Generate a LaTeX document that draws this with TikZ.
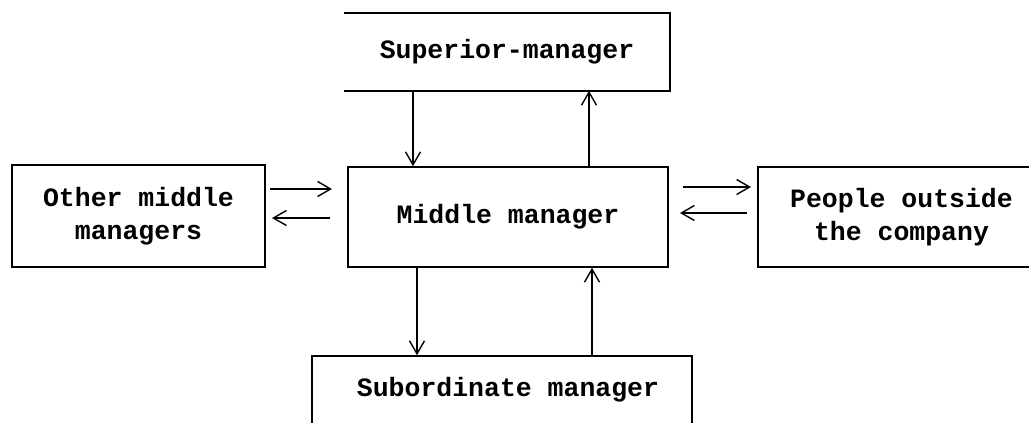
\documentclass[tikz,border=0pt]{standalone}
\usepackage{fontspec}
\setmonofont{Liberation Mono}
\usetikzlibrary{arrows.meta}
\begin{document}
\begin{tikzpicture}[x=1pt,y=-1pt,
  box/.style={rectangle,inner sep=0pt,line width=1.6pt,
    font=\ttfamily\bfseries\fontsize{26.5}{33}\selectfont,align=center},
  arr/.style={line width=1.4pt,-{Straight Barb[length=13pt,width=15pt,line width=1.4pt]}}]
\useasboundingbox (0,0) rectangle (1029,423);

% boxes
\node[box,draw=none,minimum width=324pt,minimum height=76pt] (sup) at (507,52) {Superior-manager};
\draw[line width=1.6pt] (sup.north west) -- (sup.north east) -- (sup.south east) -- (sup.south west);
\node[box,draw,minimum width=320pt,minimum height=100pt] (mid) at (508,217) {Middle manager};
\node[box,draw,minimum width=253pt,minimum height=102pt] (oth) at (138.5,216) {Other middle\\managers};
\node[box,draw,minimum width=287pt,minimum height=100pt] (out) at (901.5,217) {People outside\\the company};
\node[box,draw,minimum width=380pt,minimum height=89pt] (sub) at (502,400.5) {};
\node[font=\ttfamily\bfseries\fontsize{26.5}{33}\selectfont] (subt) at (508,390) {Subordinate manager};

% vertical links
\draw[arr] (sup.south -| 413,0) -- (mid.north -| 413,0);
\draw[arr] (mid.north -| 589,0) -- (sup.south -| 589,0);
\draw[arr] (mid.south -| 417,0) -- (sub.north -| 417,0);
\draw[arr] (sub.north -| 592,0) -- (mid.south -| 592,0);

% horizontal links
\coordinate (l1) at (270,189); \coordinate (l2) at (332,189);
\coordinate (l3) at (330,218); \coordinate (l4) at (272,218);
\draw[arr] (l1) -- (l2);
\draw[arr] (l3) -- (l4);
\coordinate (r1) at (683,187); \coordinate (r2) at (751,187);
\coordinate (r3) at (747,213); \coordinate (r4) at (680,213);
\draw[arr] (r1) -- (r2);
\draw[arr] (r3) -- (r4);
\end{tikzpicture}
\end{document}
